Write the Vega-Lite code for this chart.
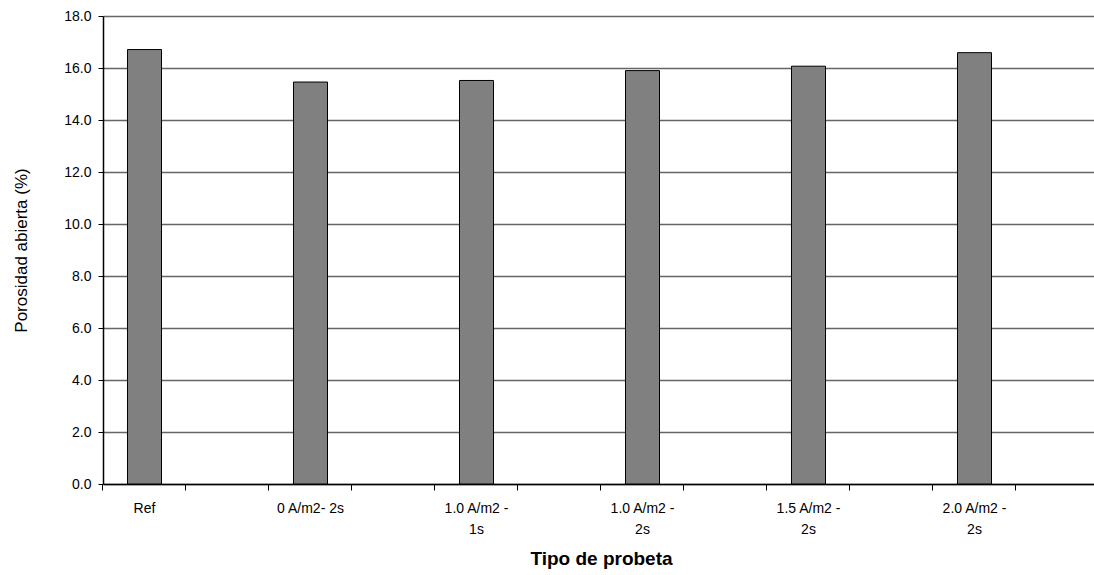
{
  "$schema": "https://vega.github.io/schema/vega-lite/v6.json",
  "autosize": "none",
  "padding": {"left": 103, "top": 16, "right": 0, "bottom": 91},
  "width": 996,
  "height": 468,
  "background": "white",
  "config": {
    "font": "Liberation Sans",
    "view": {"stroke": null},
    "axis": {"labelFont": "Liberation Sans", "titleFont": "Liberation Sans", "labelColor": "#000", "titleColor": "#000", "domainColor": "#000", "tickColor": "#000"}
  },
  "data": {
    "values": [
      {"tipo": "Ref", "porosidad": 16.71},
      {"tipo": "0 A/m2- 2s", "porosidad": 15.46},
      {"tipo": "1.0 A/m2 - 1s", "porosidad": 15.52},
      {"tipo": "1.0 A/m2 - 2s", "porosidad": 15.90},
      {"tipo": "1.5 A/m2 - 2s", "porosidad": 16.07},
      {"tipo": "2.0 A/m2 - 2s", "porosidad": 16.59}
    ]
  },
  "mark": {"type": "bar", "fill": "#808080", "stroke": "#000", "strokeWidth": 1},
  "encoding": {
    "x": {
      "field": "tipo",
      "type": "nominal",
      "sort": null,
      "scale": {
        "domain": ["Ref", " ", "0 A/m2- 2s", "  ", "1.0 A/m2 - 1s", "   ", "1.0 A/m2 - 2s", "    ", "1.5 A/m2 - 2s", "     ", "2.0 A/m2 - 2s", "      "],
        "paddingInner": 0.59,
        "paddingOuter": 0.295
      },
      "axis": {
        "title": "Tipo de probeta",
        "titleFontSize": 19,
        "titleFontWeight": "bold",
        "titlePadding": 13,
        "labelAngle": 0,
        "labelFontSize": 14,
        "labelPadding": 11,
        "labelLineHeight": 21,
        "labelBaseline": "top",
        "bandPosition": -0.7206,
        "tickSize": 6,
        "domainWidth": 1.5,
        "labelExpr": "indexof(datum.value, ' - ') > 0 ? [slice(datum.value, 0, indexof(datum.value, ' - ') + 2), slice(datum.value, indexof(datum.value, ' - ') + 3)] : datum.value",
        "grid": false
      }
    },
    "y": {
      "field": "porosidad",
      "type": "quantitative",
      "scale": {"domain": [0, 18], "nice": false},
      "axis": {
        "title": "Porosidad abierta (%)",
        "titleFontSize": 17,
        "titleFontWeight": "normal",
        "titlePadding": 33,
        "values": [0, 2, 4, 6, 8, 10, 12, 14, 16, 18],
        "format": ".1f",
        "labelFontSize": 14,
        "labelPadding": 7,
        "tickSize": 5,
        "domainWidth": 1.5,
        "grid": true,
        "gridColor": "#666",
        "gridWidth": 1.3,
        "gridOpacity": 1
      }
    }
  }
}
